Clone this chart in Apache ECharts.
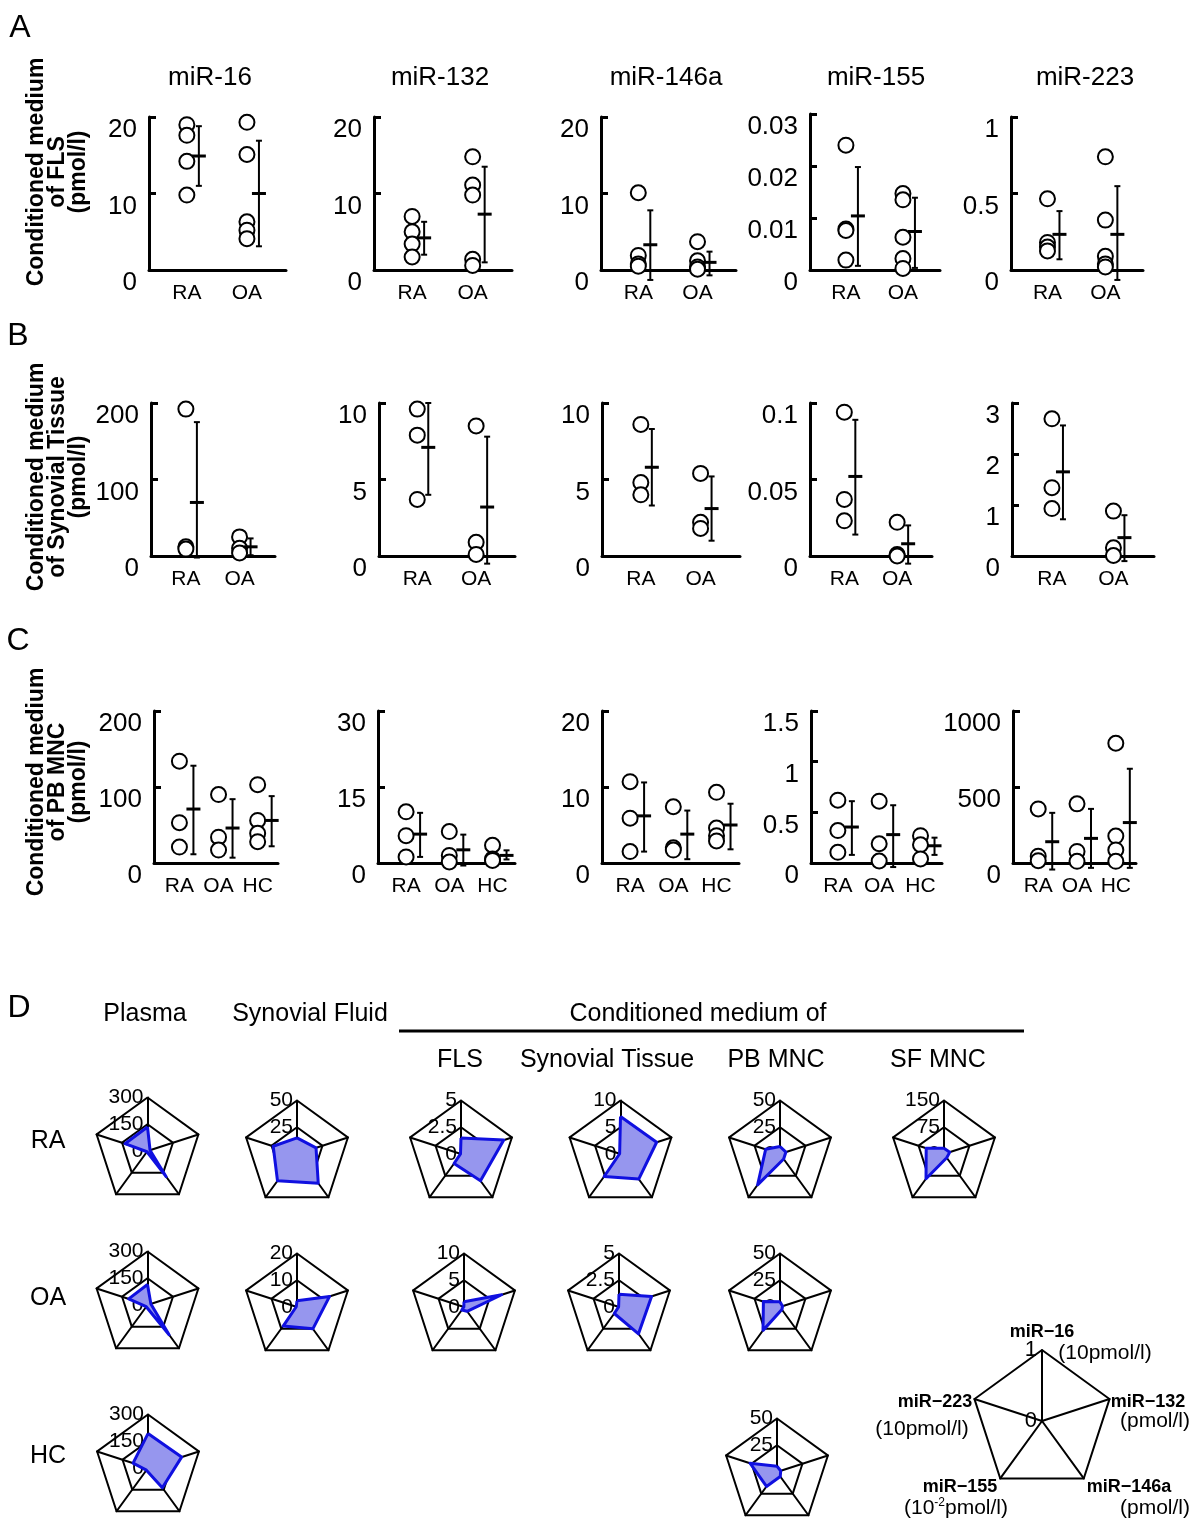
<!DOCTYPE html>
<html><head><meta charset="utf-8">
<script src="https://cdn.jsdelivr.net/npm/echarts@6/dist/echarts.min.js"></script>
<style>html,body{margin:0;padding:0;background:#fff}#c{width:1200px;height:1533px}</style>
</head><body><div id="c"></div>
<script>
// ---------------- DATA ----------------
const mirNames = ['miR-16', 'miR-132', 'miR-146a', 'miR-155', 'miR-223'];
const rowTitles = ['Conditioned medium\nof FLS\n(pmol/l)', 'Conditioned medium\nof Synovial Tissue\n(pmol/l)', 'Conditioned medium\nof PB MNC\n(pmol/l)'];
const catsAB = ['RA', 'OA'];
const catsC = ['RA', 'OA', 'HC'];

// y tick labels per panel
const ticksA = [[0, 10, 20], [0, 10, 20], [0, 10, 20], [0, 0.01, 0.02, 0.03], [0, 0.5, 1]];
const ticksB = [[0, 100, 200], [0, 5, 10], [0, 5, 10], [0, 0.05, 0.1], [0, 1, 2, 3]];
const ticksC = [[0, 100, 200], [0, 15, 30], [0, 10, 20], [0, 0.5, 1, 1.5], [0, 500, 1000]];

// A: conditioned medium of FLS — points per group, and [mean, low, high] per group
const fls_miR16 = [[19.0, 17.6, 14.2, 9.8], [19.3, 15.1, 6.3, 5.2, 4.1]];
const fls_miR16_bar = [[14.9, 11.0, 18.8], [10.0, 3.1, 16.9]];
const fls_miR132 = [[7.0, 5.0, 3.4, 1.7], [14.8, 11.1, 9.8, 1.4, 0.6]];
const fls_miR132_bar = [[4.2, 2.0, 6.3], [7.3, 1.0, 13.5]];
const fls_miR146a = [[10.1, 1.9, 0.8, 0.5], [3.7, 1.2, 0.4, 0.1]];
const fls_miR146a_bar = [[3.3, -1.3, 7.8], [1.0, -0.7, 2.4]];
const fls_miR155 = [[0.0240, 0.0079, 0.0076, 0.0019], [0.0147, 0.0135, 0.0063, 0.0022, 0.0003]];
const fls_miR155_bar = [[0.0104, 0.0008, 0.0198], [0.0074, 0.0004, 0.0139]];
const fls_miR223 = [[0.465, 0.18, 0.15, 0.125], [0.74, 0.326, 0.09, 0.04, 0.02]];
const fls_miR223_bar = [[0.233, 0.07, 0.385], [0.233, -0.065, 0.548]];

// B: conditioned medium of synovial tissue
const st_miR16 = [[192, 12, 9], [25, 10, 4]];
const st_miR16_bar = [[70, -2, 175], [12, 1, 23]];
const st_miR132 = [[9.6, 7.9, 3.7], [8.5, 0.9, 0.1]];
const st_miR132_bar = [[7.1, 4.0, 10.0], [3.2, -0.5, 7.8]];
const st_miR146a = [[8.6, 4.8, 4.0], [5.4, 2.2, 1.8]];
const st_miR146a_bar = [[5.8, 3.3, 8.3], [3.1, 1.0, 5.2]];
const st_miR155 = [[0.094, 0.037, 0.023], [0.022, 0.001, 0.0]];
const st_miR155_bar = [[0.052, 0.014, 0.089], [0.008, -0.005, 0.020]];
const st_miR223 = [[2.69, 1.34, 0.93], [0.88, 0.16, 0.01]];
const st_miR223_bar = [[1.65, 0.72, 2.56], [0.36, -0.1, 0.80]];

// C: conditioned medium of PB MNC
const pb_miR16 = [[134, 53, 21], [90, 34, 17], [103, 56, 39, 28]];
const pb_miR16_bar = [[71, 11.5, 128], [46, 7, 84], [56, 22, 88]];
const pb_miR132 = [[10.1, 5.4, 1.2], [6.2, 1.5, 0.2], [3.5, 0.8, 0.5]];
const pb_miR132_bar = [[5.7, 1.2, 9.9], [2.6, -0.5, 5.6], [1.5, 0.7, 2.5]];
const pb_miR146a = [[10.7, 5.9, 1.5], [7.4, 2.0, 1.7], [9.3, 4.6, 3.6, 2.9]];
const pb_miR146a_bar = [[6.2, 1.5, 10.6], [3.8, 0.5, 6.9], [5.0, 1.8, 7.8]];
const pb_miR155 = [[0.62, 0.32, 0.105], [0.61, 0.19, 0.02], [0.27, 0.18, 0.04]];
const pb_miR155_bar = [[0.355, 0.08, 0.61], [0.28, -0.04, 0.57], [0.17, 0.08, 0.25]];
const pb_miR223 = [[356, 45, 15], [389, 76, 11], [788, 177, 86, 11]];
const pb_miR223_bar = [[140, -43, 330], [162, -32, 356], [266, -32, 620]];

// D: radar values, order miR-16, miR-132, miR-146a, miR-155, miR-223 (units per legend)
const radarMax = [300, 50, 5, 10, 50, 150, 300, 20, 10, 5, 50, 300, 50];
const plasma_RA = [135, 15, 178, 5, 133];
const sf_RA = [15, 18.7, 33.8, 31, 23.4];
const flsR_RA = [1.5, 4.2, 3.1, 1.1, 0.05];
const stR_RA = [7.0, 7.1, 5.8, 5.2, 0.17];
const pbR_RA = [7.0, 5.8, 5.8, 35.6, 14.1];
const sfmnc_RA = [16, 17, 13, 85.7, 52.5];
const plasma_OA = [115, 20, 206, 12, 111];
const sf_OA = [2.3, 12.8, 10.1, 8.8, 0.3];
const flsR_OA = [1.0, 7.4, 1.0, 0.7, 0.03];
const stR_OA = [1.2, 3.2, 3.1, 0.75, 0.04];
const pbR_OA = [4.8, 2.5, 3.0, 27, 16.3];
const plasma_HC = [193, 198, 137, 15, 88];
const pbR_HC = [5.4, 3.6, 5.2, 16.7, 26.5];
const radarValues = [plasma_RA, sf_RA, flsR_RA, stR_RA, pbR_RA, sfmnc_RA, plasma_OA, sf_OA, flsR_OA, stR_OA, pbR_OA, plasma_HC, pbR_HC];

// ---------------- LAYOUT ----------------
const FONT = "'Liberation Sans', Arial, sans-serif";
const gridLeft = [[149, 374, 601, 810, 1011], [151, 379, 602, 810, 1012], [154, 378, 602, 811, 1013]];
const gridWidth = [[137, 138, 135, 130, 132], [124, 136, 138, 122, 142], [124, 137, 137, 131, 123]];
const gridTop = [117, 403, 711];
const gridBottom = [270, 556, 863];
const xRange = [[-0.63, 1.65], [-0.65, 1.66], [-0.65, 2.52]];
const barOffset = [12, 11, 14];
const radarPos = [[147.5, 1151], [297, 1154], [461, 1154], [620.5, 1154], [780, 1154], [944, 1154],
  [147.5, 1305], [297, 1307], [464, 1307], [619, 1307], [780, 1307], [148, 1468], [777, 1472]];
const radarR = 53.5;

const rows = [
  { cats: catsAB, ticks: ticksA, pts: [fls_miR16, fls_miR132, fls_miR146a, fls_miR155, fls_miR223], bars: [fls_miR16_bar, fls_miR132_bar, fls_miR146a_bar, fls_miR155_bar, fls_miR223_bar] },
  { cats: catsAB, ticks: ticksB, pts: [st_miR16, st_miR132, st_miR146a, st_miR155, st_miR223], bars: [st_miR16_bar, st_miR132_bar, st_miR146a_bar, st_miR155_bar, st_miR223_bar] },
  { cats: catsC, ticks: ticksC, pts: [pb_miR16, pb_miR132, pb_miR146a, pb_miR155, pb_miR223], bars: [pb_miR16_bar, pb_miR132_bar, pb_miR146a_bar, pb_miR155_bar, pb_miR223_bar] }
];

const grid = [], xAxis = [], yAxis = [], series = [], radar = [], graphic = [];
const fmt = v => String(+(+v).toFixed(4));

rows.forEach((row, r) => {
  for (let c = 0; c < 5; c++) {
    const gi = r * 5 + c;
    const ticks = row.ticks[c];
    const top = (r === 0 && c === 3) ? 114 : gridTop[r];
    grid.push({ left: gridLeft[r][c], top: top, width: gridWidth[r][c], height: gridBottom[r] - top, containLabel: false });
    const cats = row.cats;
    xAxis.push({
      gridIndex: gi, type: 'value', min: xRange[r][0], max: xRange[r][1],
      axisLine: { show: true, onZero: false, lineStyle: { color: '#000', width: 3 } },
      axisTick: { show: false }, splitLine: { show: false },
      axisLabel: { customValues: cats.map((_, i) => i), formatter: v => cats[Math.round(v)] || '', color: '#000', fontSize: 21, fontFamily: FONT, margin: 13 }
    });
    yAxis.push({
      gridIndex: gi, type: 'value', min: ticks[0], max: ticks[ticks.length - 1], interval: ticks[1] - ticks[0],
      axisLine: { show: true, onZero: false, lineStyle: { color: '#000', width: 3 } },
      axisTick: { show: true, inside: true, length: 7, lineStyle: { color: '#000', width: 3 } },
      splitLine: { show: false },
      axisLabel: { color: '#000', fontSize: 26, fontFamily: FONT, margin: 12, verticalAlign: 'top', formatter: fmt }
    });
    const pts = [];
    row.pts[c].forEach((grp, g) => grp.forEach(v => pts.push([g, v])));
    series.push({
      type: 'scatter', xAxisIndex: gi, yAxisIndex: gi, data: pts, symbol: 'circle', symbolSize: 15, clip: false, silent: true,
      itemStyle: { color: '#fff', borderColor: '#000', borderWidth: 2, opacity: 1 }, z: 3
    });
    const off = barOffset[r];
    series.push({
      type: 'custom', xAxisIndex: gi, yAxisIndex: gi, clip: false, silent: true, z: 4,
      data: row.bars[c].map((b, g) => [g, b[0], b[1], b[2]]),
      encode: { x: 0, y: [1, 2, 3] },
      renderItem: function (params, api) {
        const g = api.value(0);
        const pm = api.coord([g, api.value(1)]);
        const pl = api.coord([g, api.value(2)]);
        const ph = api.coord([g, api.value(3)]);
        const x = pm[0] + off;
        const st = { stroke: '#000', lineWidth: 2 };
        return {
          type: 'group', children: [
            { type: 'line', shape: { x1: x, y1: pl[1], x2: x, y2: ph[1] }, style: st },
            { type: 'line', shape: { x1: x - 3, y1: pl[1], x2: x + 3, y2: pl[1] }, style: st },
            { type: 'line', shape: { x1: x - 3, y1: ph[1], x2: x + 3, y2: ph[1] }, style: st },
            { type: 'line', shape: { x1: x - 7, y1: pm[1], x2: x + 7, y2: pm[1] }, style: { stroke: '#000', lineWidth: 3 } }
          ]
        };
      }
    });
  }
});

// radar order in ECharts goes counter-clockwise from top: 16, 223, 155, 146a, 132
const ccw = v => [v[0], v[4], v[3], v[2], v[1]];
const radarLineStyle = { color: '#000', width: 2 };
const polyLine = { color: '#1010e0', width: 3 };
const polyArea = { color: 'rgb(150,150,238)', opacity: 1 };
radarValues.forEach((vals, i) => {
  const max = radarMax[i];
  radar.push({
    center: radarPos[i], radius: radarR, shape: 'polygon', splitNumber: 2, startAngle: 90,
    indicator: [
      { min: 0, max: max, axisLabel: { show: true, color: '#000', fontSize: 21, fontFamily: FONT, margin: 4 } },
      { min: 0, max: max }, { min: 0, max: max }, { min: 0, max: max }, { min: 0, max: max }
    ],
    axisName: { show: false },
    axisLine: { lineStyle: radarLineStyle },
    splitLine: { lineStyle: radarLineStyle },
    splitArea: { show: false },
    axisTick: { show: false },
    axisLabel: { show: false }
  });
  // filled area beneath the radar grid lines
  series.push({
    type: 'radar', radarIndex: i, symbol: 'none', silent: true, z: 1,
    data: [{ value: ccw(vals), lineStyle: { width: 0, opacity: 0 }, areaStyle: polyArea }]
  });
  // outline on top
  series.push({
    type: 'radar', radarIndex: i, symbol: 'none', silent: true, z: 5,
    data: [{ value: ccw(vals), lineStyle: polyLine }]
  });
});
// legend radar
radar.push({
  center: [1042, 1421], radius: 71, shape: 'polygon', splitNumber: 1, startAngle: 90,
  indicator: [
    { min: 0, max: 1, axisLabel: { show: true, color: '#000', fontSize: 22, fontFamily: FONT, margin: 5 } },
    { min: 0, max: 1 }, { min: 0, max: 1 }, { min: 0, max: 1 }, { min: 0, max: 1 }
  ],
  axisName: { show: false },
  axisLine: { lineStyle: radarLineStyle },
  splitLine: { lineStyle: radarLineStyle },
  splitArea: { show: false }, axisTick: { show: false }, axisLabel: { show: false }
});

// texts
const txt = (text, x, y, size, extra) => Object.assign({
  type: 'text', x: x, y: y, silent: true,
  style: Object.assign({ text: text, fill: '#000', fontSize: size, fontFamily: FONT, align: 'center', verticalAlign: 'middle' }, extra || {})
});
graphic.push(txt('A', 20, 28, 32), txt('B', 18, 336, 32), txt('C', 18, 641, 32), txt('D', 19, 1008, 32));
const titleX = [210, 440, 666, 876, 1085];
mirNames.forEach((n, i) => graphic.push(txt(n, titleX[i], 78, 26)));
const rowTitleY = [172, 477, 782];
rowTitles.forEach((t, i) => {
  const el = txt(t, 58, rowTitleY[i], 23, { fontWeight: 'bold', lineHeight: 21 });
  el.rotation = Math.PI / 2;
  graphic.push(el);
});
graphic.push(txt('Plasma', 145, 1014, 25), txt('Synovial Fluid', 310, 1014, 25), txt('Conditioned medium of', 698, 1014, 25));
graphic.push({ type: 'line', silent: true, shape: { x1: 399, y1: 1031, x2: 1024, y2: 1031 }, style: { stroke: '#000', lineWidth: 3 } });
graphic.push(txt('FLS', 460, 1060, 25), txt('Synovial Tissue', 607, 1060, 25), txt('PB MNC', 776, 1060, 25), txt('SF MNC', 938, 1060, 25));
graphic.push(txt('RA', 48, 1141, 25), txt('OA', 48, 1298, 25), txt('HC', 48, 1456, 25));
// legend labels
const legendNames = ['miR\u221216', 'miR\u2212132', 'miR\u2212146a', 'miR\u2212155', 'miR\u2212223'];
const legendUnits = ['(10pmol/l)', '(pmol/l)', '(pmol/l)', '(10{s|-2}pmol/l)', '(10pmol/l)'];
const legNamePos = [[1042, 1332], [1148, 1402], [1129, 1487], [960, 1487], [935, 1402]];
const legUnitPos = [[1105, 1353], [1155, 1421], [1155, 1508], [956, 1508], [922, 1429]];
legendNames.forEach((n, i) => {
  graphic.push(txt(n, legNamePos[i][0], legNamePos[i][1], 18, { fontWeight: 'bold' }));
  graphic.push(txt(legendUnits[i], legUnitPos[i][0], legUnitPos[i][1], 21, {
    rich: { s: { fontSize: 12, fontFamily: FONT, verticalAlign: 'top', lineHeight: 22, fill: '#000' } }, lineHeight: 22
  }));
});

const chart = echarts.init(document.getElementById('c'), null, { renderer: 'canvas' });
chart.setOption({
  animation: false, backgroundColor: '#fff',
  grid: grid, xAxis: xAxis, yAxis: yAxis, radar: radar, series: series, graphic: graphic
});
</script></body></html>
